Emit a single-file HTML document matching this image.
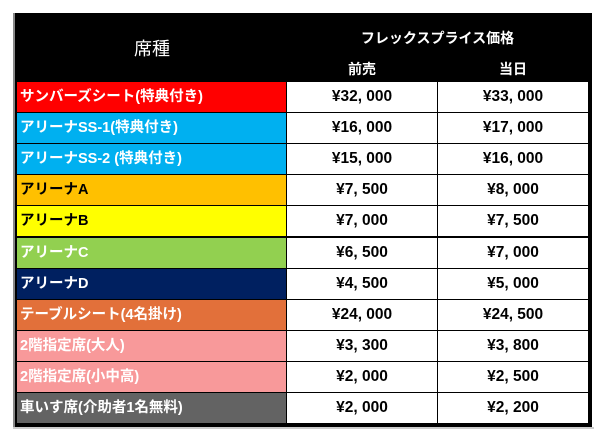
<!DOCTYPE html><html><head><meta charset="utf-8"><style>
body{margin:0;width:600px;height:440px;background:#fff;position:relative;font-family:"Liberation Sans","Noto Sans CJK JP",sans-serif;overflow:hidden}
.a{position:absolute}
.r{position:absolute;left:17px;width:570px;height:30px}
.l{position:absolute;left:0;top:0;width:269px;height:30px;line-height:30px;padding-left:3px;box-sizing:border-box;font-weight:bold;font-size:14.5px;color:#fff;white-space:nowrap}
.v{position:absolute;top:0;height:30px;line-height:30px;background:#fff;text-align:center;font-weight:bold;font-size:15.5px;color:#000}
</style></head><body>
<div class="a" style="left:13px;top:13px;width:579px;height:414px;background:#000"></div>
<div class="a" style="left:13px;top:427px;width:581px;height:2px;background:#ccc"></div>
<div class="a" style="left:13px;top:13px;width:2px;height:414px;background:#888"></div>
<div class="a" style="left:17px;top:35px;width:270px;text-align:center;color:#fff;font-size:18px">席種</div>
<div class="a" style="left:287px;top:28px;width:301px;text-align:center;color:#fff;font-size:14px;font-weight:bold">フレックスプライス価格</div>
<div class="a" style="left:287px;top:59px;width:150px;text-align:center;color:#fff;font-size:14px;font-weight:bold">前売</div>
<div class="a" style="left:438px;top:59px;width:150px;text-align:center;color:#fff;font-size:14px;font-weight:bold">当日</div>
<div id="rows"></div>
<script>
var d=[["サンバーズシート(特典付き)","#ff0000","#fff","¥32, 000","¥33, 000"],
["アリーナSS-1(特典付き)","#00b0f0","#fff","¥16, 000","¥17, 000"],
["アリーナSS-2 (特典付き)","#00b0f0","#fff","¥15, 000","¥16, 000"],
["アリーナA","#ffc000","#000","¥7, 500","¥8, 000"],
["アリーナB","#ffff00","#000","¥7, 000","¥7, 500"],
["アリーナC","#92d050","#fff","¥6, 500","¥7, 000"],
["アリーナD","#002060","#fff","¥4, 500","¥5, 000"],
["テーブルシート(4名掛け)","#e2703a","#fff","¥24, 000","¥24, 500"],
["2階指定席(大人)","#f8999a","#fff","¥3, 300","¥3, 800"],
["2階指定席(小中高)","#f8999a","#fff","¥2, 000","¥2, 500"],
["車いす席(介助者1名無料)","#636363","#fff","¥2, 000","¥2, 200"]];
var h="";
for(var i=0;i<d.length;i++){var t=Math.round(82+i*31.1);
h+='<div class="r" style="top:'+t+'px"><div class="l" style="background:'+d[i][1]+';color:'+d[i][2]+'">'+d[i][0]+'</div><div class="v" style="left:270px;width:150px">'+d[i][3]+'</div><div class="v" style="left:421px;width:150px">'+d[i][4]+'</div></div>';}
document.getElementById("rows").innerHTML=h;
</script>
</body></html>
